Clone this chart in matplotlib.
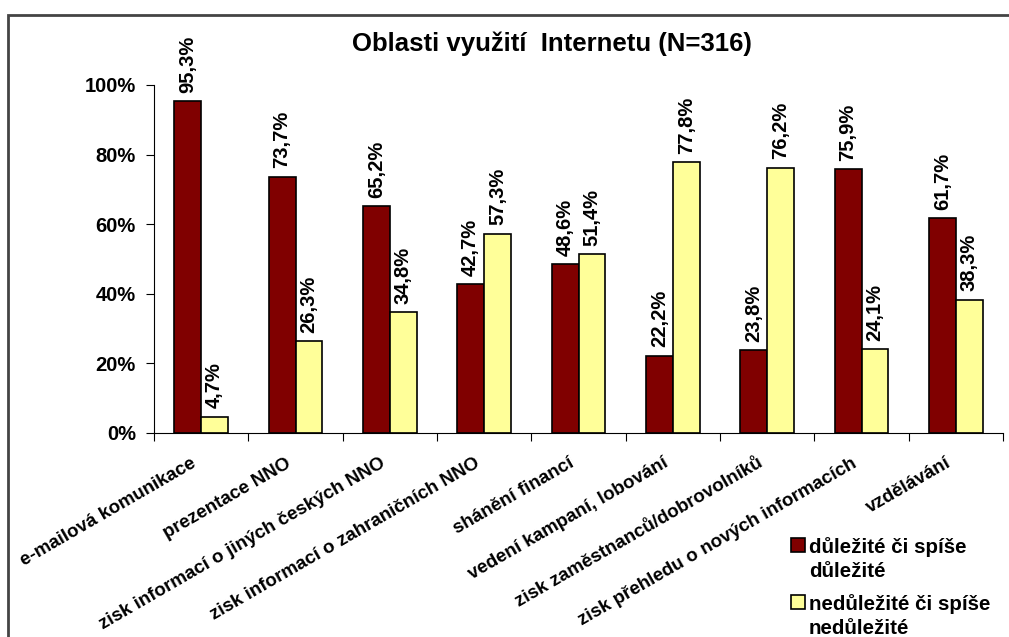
import numpy as np
import matplotlib.pyplot as plt
from matplotlib.patches import Rectangle
from matplotlib.transforms import ScaledTranslation

plt.rcParams['font.family'] = ['Liberation Sans', 'DejaVu Sans']
plt.rcParams['font.weight'] = 'bold'

kategorie = ["e-mailová komunikace", "prezentace NNO", "zisk informací o jiných českých NNO",
             "zisk informací o zahraničních NNO", "shánění financí", "vedení kampaní, lobování",
             "zisk zaměstnanců/dobrovolníků", "zisk přehledu o nových informacích", "vzdělávání"]
dulezite = [95.3, 73.7, 65.2, 42.7, 48.6, 22.2, 23.8, 75.9, 61.7]
nedulezite = [4.7, 26.3, 34.8, 57.3, 51.4, 77.8, 76.2, 24.1, 38.3]
legenda = ["důležité či spíše\ndůležité", "nedůležité či spíše\nnedůležité"]
barvy = ['#800000', '#FFFF99']
y_ticks = [0, 20, 40, 60, 80, 100]

W, H = 1009, 637
fig = plt.figure(figsize=(W / 100, H / 100), dpi=100)
ax = fig.add_axes([154 / W, 1 - 433 / H, 849 / W, 348 / H])

x = np.arange(len(kategorie)) + 0.5
w = 0.285
b1 = ax.bar(x - w / 2, dulezite, w, color=barvy[0], edgecolor='black', linewidth=1.2)
b2 = ax.bar(x + w / 2, nedulezite, w, color=barvy[1], edgecolor='black', linewidth=1.2)

for bars, vals in ((b1, dulezite), (b2, nedulezite)):
    for r, v in zip(bars, vals):
        ax.annotate(("%.1f%%" % v).replace('.', ','), (r.get_x() + r.get_width() / 2, v),
                    xytext=(0, 6), textcoords='offset points', rotation=90,
                    ha='center', va='bottom', fontsize=14.5, fontweight='bold')

ax.set_xlim(0, len(kategorie))
ax.set_ylim(0, 100)
ax.set_yticks(y_ticks)
ax.set_yticklabels(["%d%%" % t for t in y_ticks], fontsize=14.5, fontweight='bold')
ax.set_xticks(np.arange(len(kategorie) + 1))
ax.set_xticklabels([])
ax.set_xticks(x, minor=True)
ax.set_xticklabels(kategorie, minor=True, rotation=30, ha='right', va='center',
                   rotation_mode='anchor', fontsize=13.5, fontweight='bold')
ax.tick_params(axis='x', which='minor', length=0, pad=21)
ax.tick_params(axis='x', which='major', length=6, direction='out')
ax.tick_params(axis='y', length=6, direction='out', pad=7)
posun = ScaledTranslation(-6 / 100, 0, fig.dpi_scale_trans)
for t in ax.get_xticklabels(minor=True):
    t.set_transform(t.get_transform() + posun)
for s in ('top', 'right'):
    ax.spines[s].set_visible(False)

fig.text(552 / W, 1 - 44 / H, "Oblasti využití  Internetu (N=316)", ha='center', va='center',
         fontsize=18.5, fontweight='bold')

# legenda - ctverecek u prvniho radku textu
for i, (lab, c) in enumerate(zip(legenda, barvy)):
    top = 538 + i * 57
    fig.patches.append(Rectangle((791 / W, 1 - (top + 14) / H), 14 / W, 14 / H,
                                 transform=fig.transFigure, facecolor=c, edgecolor='black',
                                 linewidth=1.2))
    for j, radek in enumerate(lab.split("\n")):
        fig.text(809 / W, 1 - (top + 15 + j * 24) / H, radek, ha='left', va='baseline',
                 fontsize=14.8, fontweight='bold')

fig.patches.append(Rectangle((8 / W, -0.1), 1.2, 1 - 15 / H + 0.1, transform=fig.transFigure,
                             fill=False, edgecolor='#444444', linewidth=2))

fig.savefig("out.png", dpi=100)
